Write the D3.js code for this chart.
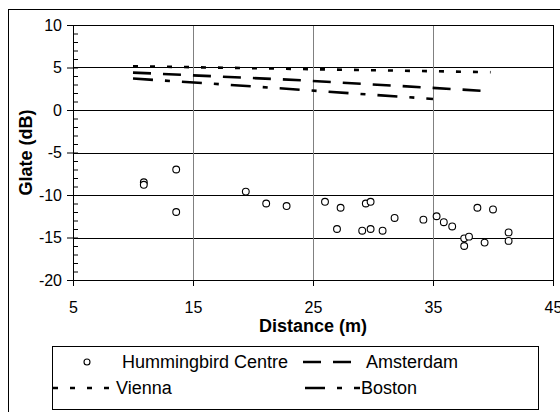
<!DOCTYPE html>
<html>
<head>
<meta charset="utf-8">
<script src="https://d3js.org/d3.v7.min.js"></script>
<style>
    body { margin: 0; background: #fff; }
    text { font-family: "Liberation Sans", Arial, sans-serif; fill: #000; }
</style>
</head>
<body>
<svg width="560" height="412"></svg>
<script>
    // measured points, Hummingbird Centre
    var hummingX = [10.9, 10.9, 13.6, 13.6, 19.4, 21.1, 22.8, 26.0, 27.3, 27.0, 29.1, 29.4, 29.8, 29.8,
                    30.8, 31.8, 34.2, 35.3, 35.9, 36.6, 37.6, 38.0, 37.6, 38.7, 39.3, 40.0, 41.3, 41.3];
    var hummingY = [-8.5, -8.8, -7.0, -12.0, -9.6, -11.0, -11.3, -10.8, -11.5, -14.0, -14.2, -11.0, -10.8, -14.0,
                    -14.2, -12.7, -12.9, -12.5, -13.2, -13.7, -15.1, -14.9, -16.0, -11.5, -15.6, -11.7, -14.4, -15.4];

    // model lines
    var viennaX = [10, 39.8], viennaY = [5.15, 4.45];
    var amsterdamX = [10, 24, 39.2], amsterdamY = [4.4, 3.5, 2.25];
    var bostonX = [10, 16.6, 35], bostonY = [3.7, 3.1, 1.3];

    var xTicks = [5, 15, 25, 35, 45];
    var yTicks = [-20, -15, -10, -5, 0, 5, 10];
    var yMinor = d3.range(-20, 11, 1);
    var seriesNames = ["Hummingbird Centre", "Amsterdam", "Vienna", "Boston"];

    var svg = d3.select("svg"),
        margin = {top: 25, left: 73},
        width = 480,
        height = 255;

    var x = d3.scaleLinear().domain([5, 45]).range([0, width]),
        y = d3.scaleLinear().domain([-20, 10]).range([height, 0]);

    var dashes = {Vienna: "5,12", Amsterdam: "18,12", Boston: "20,12,5,12"};

    // outer chart border (right and bottom run off the picture)
    svg.append("rect")
        .attr("x", 8.5).attr("y", 9.5)
        .attr("width", 600).attr("height", 500)
        .attr("fill", "none").attr("stroke", "#000");

    var g = svg.append("g")
        .attr("transform", "translate(" + margin.left + "," + margin.top + ")");

    // grid
    g.selectAll(".hgrid")
        .data(yTicks.slice(1, -1))
        .enter().append("line")
        .attr("x1", 0).attr("x2", width)
        .attr("y1", function(d) { return Math.round(y(d)) + 0.5; })
        .attr("y2", function(d) { return Math.round(y(d)) + 0.5; })
        .attr("stroke", "#000");

    g.selectAll(".vgrid")
        .data(xTicks.slice(1, -1))
        .enter().append("line")
        .attr("y1", 0).attr("y2", height)
        .attr("x1", function(d) { return Math.round(x(d)) + 0.5; })
        .attr("x2", function(d) { return Math.round(x(d)) + 0.5; })
        .attr("stroke", "#808080");

    g.append("rect")
        .attr("x", 0.5).attr("y", 0.5)
        .attr("width", width).attr("height", height)
        .attr("fill", "none").attr("stroke", "#000");

    // Y axis (plain hyphen for negatives, like the original)
    var fmt = function(d) { return String(d); };
    g.append("g")
        .call(d3.axisLeft(y).tickValues(yTicks).tickSize(6).tickPadding(5).tickFormat(fmt));
    g.append("g")
        .call(d3.axisRight(y).tickValues(yMinor).tickSize(5).tickFormat(""));

    // X axis
    g.append("g")
        .attr("transform", "translate(0," + height + ")")
        .call(d3.axisBottom(x).tickValues(xTicks).tickSize(6).tickPadding(16).tickFormat(fmt));

    g.selectAll(".domain").remove();
    g.selectAll(".tick line").attr("stroke", "#000");
    g.selectAll(".tick text").style("font-size", "16px").attr("fill", "#000");

    // axis titles
    svg.append("text")
        .attr("x", margin.left + width / 2)
        .attr("y", 332)
        .style("text-anchor", "middle")
        .style("font-size", "18px")
        .style("font-weight", "bold")
        .text("Distance (m)");

    svg.append("text")
        .attr("transform", "translate(32," + (margin.top + height / 2) + ") rotate(-90)")
        .style("text-anchor", "middle")
        .style("font-size", "18px")
        .style("font-weight", "bold")
        .text("Glate (dB)");

    // lines
    var line = d3.line()
        .x(function(d) { return x(d[0]); })
        .y(function(d) { return y(d[1]); });

    function drawLine(xs, ys, name) {
        g.append("path")
            .datum(d3.zip(xs, ys))
            .attr("d", line)
            .attr("fill", "none")
            .attr("stroke", "#000")
            .attr("stroke-width", 2.6)
            .attr("stroke-dasharray", dashes[name]);
    }
    drawLine(viennaX, viennaY, "Vienna");
    drawLine(amsterdamX, amsterdamY, "Amsterdam");
    drawLine(bostonX, bostonY, "Boston");

    // points
    g.selectAll(".dot")
        .data(d3.zip(hummingX, hummingY))
        .enter().append("circle")
        .attr("class", "dot")
        .attr("cx", function(d) { return x(d[0]); })
        .attr("cy", function(d) { return y(d[1]); })
        .attr("r", 3.4)
        .attr("fill", "#fff")
        .attr("stroke", "#000")
        .attr("stroke-width", 1.1);

    // legend
    var legend = svg.append("g");
    legend.append("rect")
        .attr("x", 52.5).attr("y", 346.5)
        .attr("width", 486).attr("height", 63)
        .attr("fill", "#fff").attr("stroke", "#000");

    var items = [
        {name: seriesNames[0], x0: 58, x1: 116, tx: 122, ty: 362},
        {name: seriesNames[1], x0: 303, x1: 352, tx: 366, ty: 362},
        {name: seriesNames[2], x0: 53, x1: 115, tx: 116, ty: 388},
        {name: seriesNames[3], x0: 305, x1: 360, tx: 361, ty: 388}
    ];

    items.forEach(function(it) {
        if (it.name === "Hummingbird Centre") {
            legend.append("circle")
                .attr("cx", (it.x0 + it.x1) / 2)
                .attr("cy", it.ty)
                .attr("r", 3)
                .attr("fill", "#fff")
                .attr("stroke", "#000")
                .attr("stroke-width", 1.1);
        } else {
            legend.append("line")
                .attr("x1", it.x0).attr("x2", it.x1)
                .attr("y1", it.ty).attr("y2", it.ty)
                .attr("stroke", "#000")
                .attr("stroke-width", 2.6)
                .attr("stroke-dasharray", dashes[it.name]);
        }
        legend.append("text")
            .attr("x", it.tx)
            .attr("y", it.ty)
            .attr("dy", "0.35em")
            .style("font-size", "18px")
            .text(it.name);
    });
</script>
</body>
</html>
